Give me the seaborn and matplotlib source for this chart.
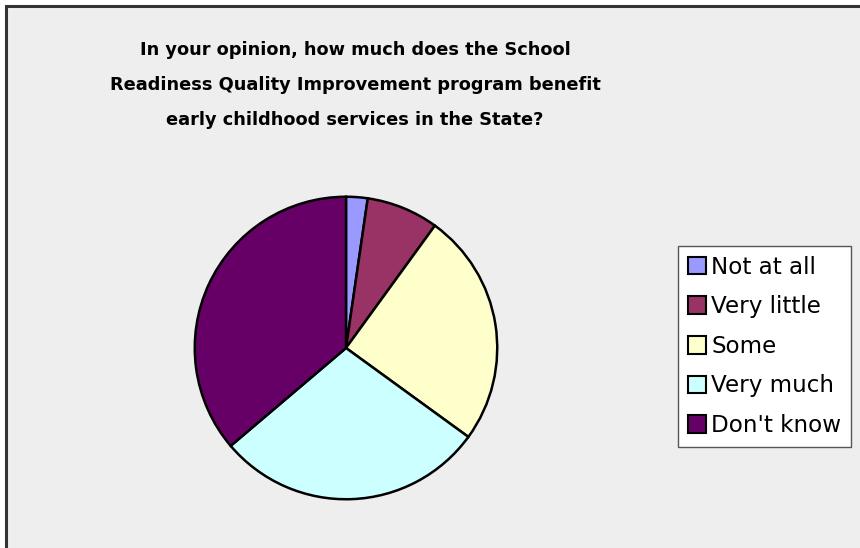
import matplotlib
matplotlib.use('Agg')
import matplotlib.pyplot as plt
import matplotlib.patches as mpatches
import seaborn as sns

# data (percent of responses)
CATEGORIES = ['Not at all', 'Very little', 'Some', 'Very much', "Don't know"]
SHARES     = [2.3, 7.7, 25.0, 28.8, 36.2]
COLORS     = ['#9999FF', '#993366', '#FFFFCC', '#CCFFFF', '#660066']
TITLE      = ('In your opinion, how much does the School\n'
              'Readiness Quality Improvement program benefit\n'
              'early childhood services in the State?')

W, H = 860, 548

sns.set_style('white')
plt.rcParams['font.family'] = ['DejaVu Sans']
plt.rcParams['text.color'] = 'black'
palette = sns.color_palette(COLORS)

fig = plt.figure(figsize=(W / 100, H / 100), dpi=100)
fig.patch.set_facecolor('white')

# chart area panel (gray, dark frame, runs off the right and bottom)
panel = mpatches.Rectangle((6 / W, -0.1), 1.2, 1 - 6 / H + 0.1,
                           transform=fig.transFigure, facecolor='#EEEEEE',
                           edgecolor='#333333', linewidth=2.2, zorder=-5)
fig.patches.append(panel)

# pie: center (346, 348) px, radius 152 px
cx, cy, r = 346, 348, 152
ax = fig.add_axes([(cx - r) / W, (H - cy - r) / H, 2 * r / W, 2 * r / H])
ax.set_zorder(2)
ax.set_facecolor('none')
wedges, _ = ax.pie(SHARES, colors=palette, startangle=90, counterclock=False,
                   radius=1, wedgeprops=dict(edgecolor='black', linewidth=1.8))
ax.set_xlim(-1.005, 1.005)
ax.set_ylim(-1.005, 1.005)
ax.set_aspect('auto')
ax.axis('off')

fig.text(355 / W, 1 - 85 / H, TITLE, ha='center', va='center', color='black',
         fontsize=12.8, fontweight='bold', linespacing=2.2)

handles = [mpatches.Patch(facecolor=c, edgecolor='black', linewidth=1.5, label=l)
           for c, l in zip(palette, CATEGORIES)]
leg = fig.legend(handles=handles, loc='upper left',
                 bbox_to_anchor=(678 / W, 1 - 246 / H), borderaxespad=0,
                 fontsize=16.6, frameon=True, fancybox=False, framealpha=1,
                 handlelength=0.8, handleheight=0.8, handletextpad=0.22,
                 labelspacing=0.72, borderpad=0.42)
for t in leg.get_texts():
    t.set_color('black')
leg.get_frame().set_edgecolor('#555555')
leg.get_frame().set_linewidth(1.0)
leg.get_frame().set_facecolor('white')
leg.set_zorder(3)

fig.savefig('out.png', dpi=100, facecolor=fig.get_facecolor())
